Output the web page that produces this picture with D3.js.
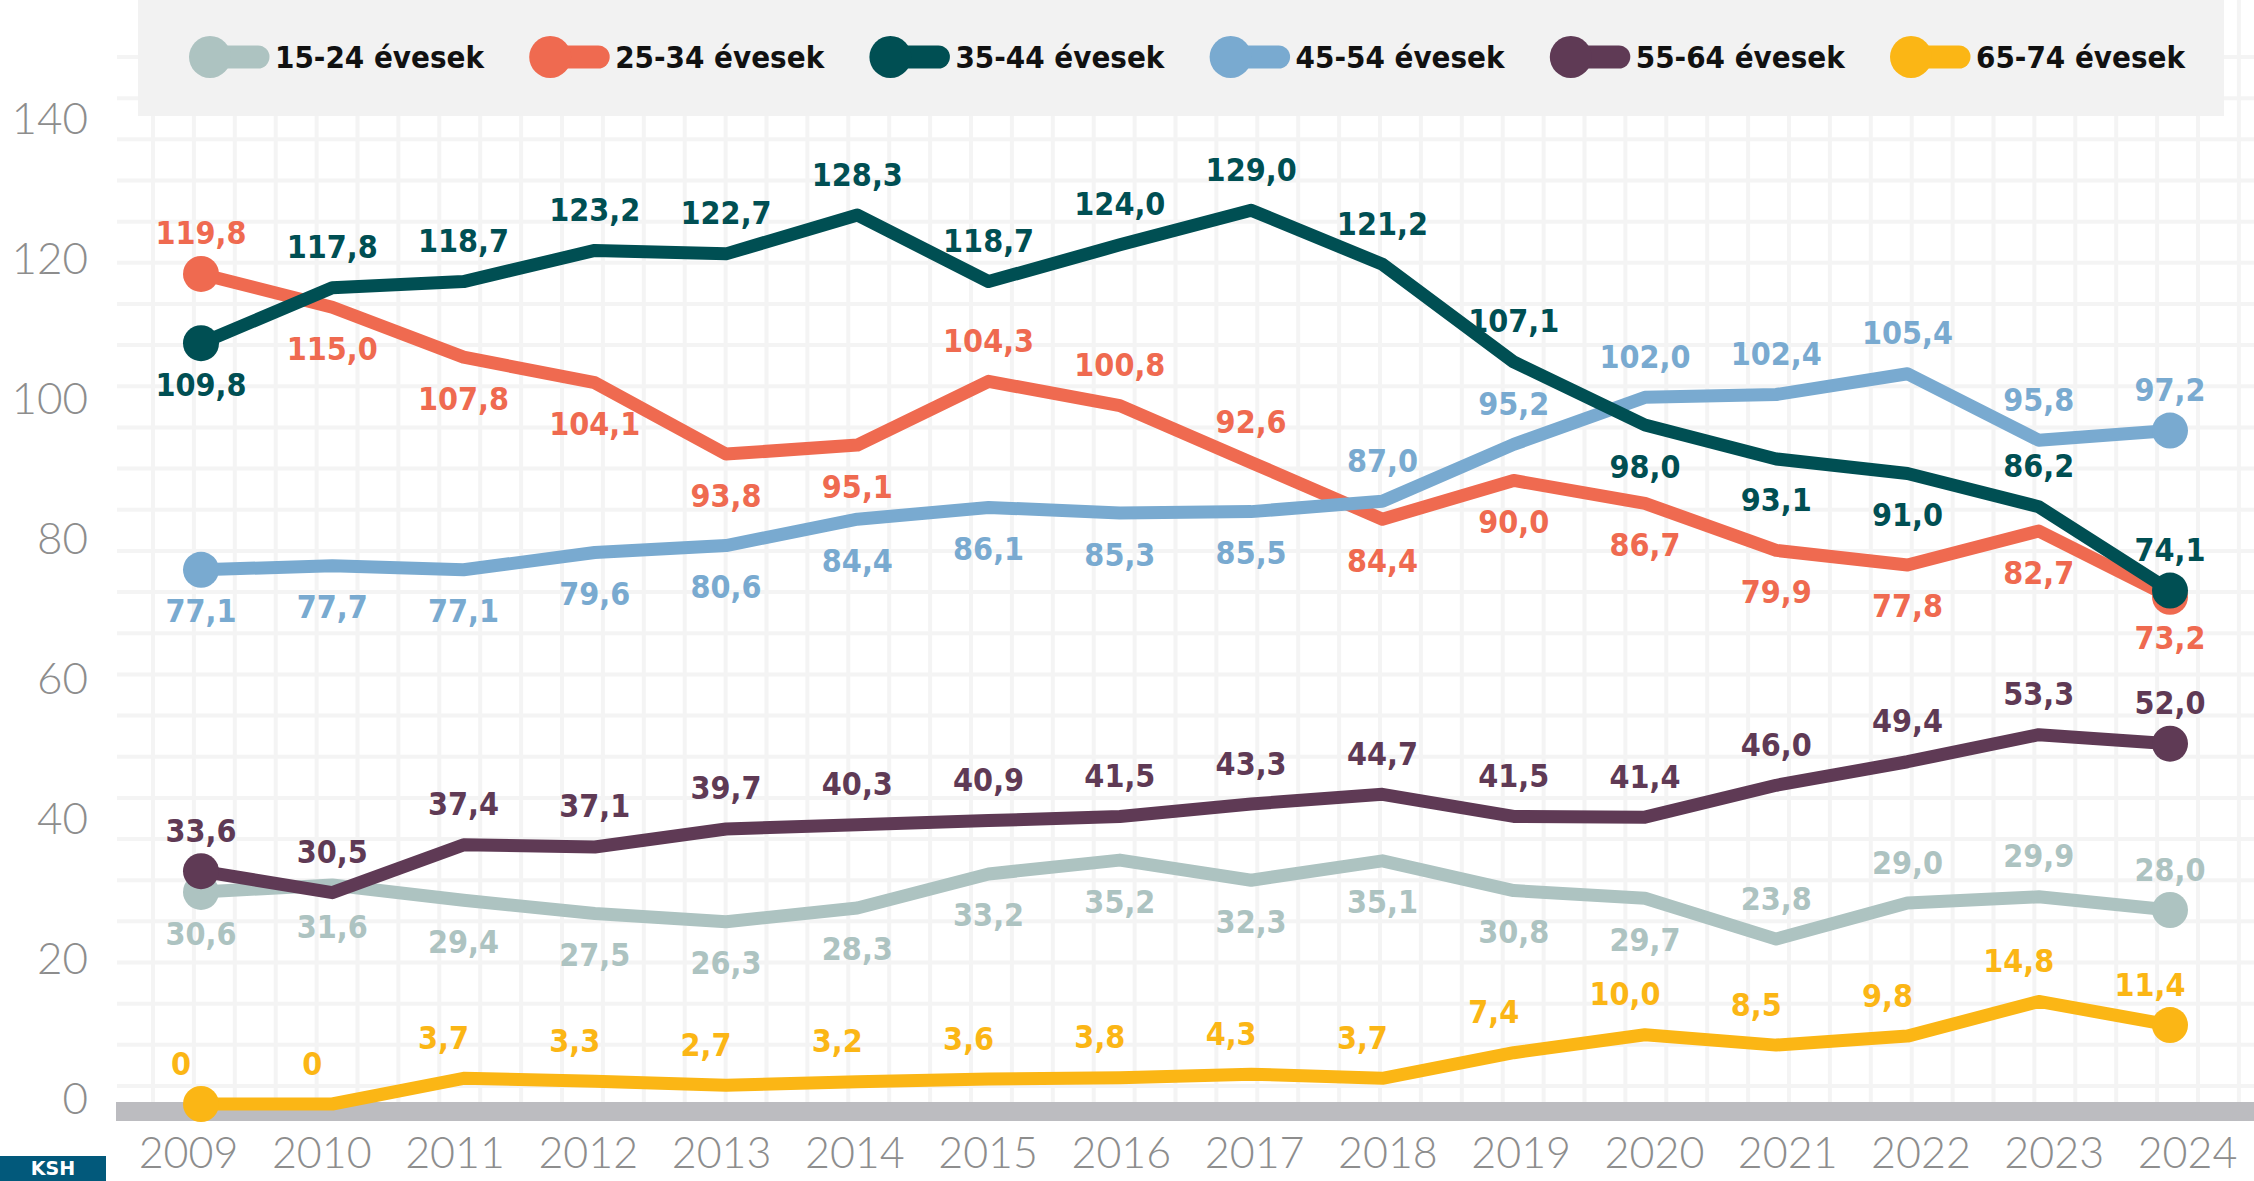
<!DOCTYPE html>
<html><head><meta charset="utf-8">
<script src="https://cdn.jsdelivr.net/npm/d3@7"></script>
<style>
html,body{margin:0;padding:0;background:#fff;overflow:hidden;}
svg{display:block;}
.lbl{font-family:"DejaVu Sans Condensed","DejaVu Sans",sans-serif;font-stretch:condensed;font-weight:bold;}
</style></head><body>
<svg id="c" width="2254" height="1181"></svg>
<script>
// ---- data ----
const years = [2009,2010,2011,2012,2013,2014,2015,2016,2017,2018,2019,2020,2021,2022,2023,2024];
const seriesNames = ["15-24 évesek","25-34 évesek","35-44 évesek","45-54 évesek","55-64 évesek","65-74 évesek"];
const age1524 = [30.6,31.6,29.4,27.5,26.3,28.3,33.2,35.2,32.3,35.1,30.8,29.7,23.8,29.0,29.9,28.0];
const age2534 = [119.8,115.0,107.8,104.1,93.8,95.1,104.3,100.8,92.6,84.4,90.0,86.7,79.9,77.8,82.7,73.2];
const age3544 = [109.8,117.8,118.7,123.2,122.7,128.3,118.7,124.0,129.0,121.2,107.1,98.0,93.1,91.0,86.2,74.1];
const age4554 = [77.1,77.7,77.1,79.6,80.6,84.4,86.1,85.3,85.5,87.0,95.2,102.0,102.4,105.4,95.8,97.2];
const age5564 = [33.6,30.5,37.4,37.1,39.7,40.3,40.9,41.5,43.3,44.7,41.5,41.4,46.0,49.4,53.3,52.0];
const age6574 = [0,0,3.7,3.3,2.7,3.2,3.6,3.8,4.3,3.7,7.4,10.0,8.5,9.8,14.8,11.4];
const yTicks = [0,20,40,60,80,100,120,140];
// label side per point: a = above the line, b = below
const side1524 = ["b","b","b","b","b","b","b","b","b","b","b","b","a","a","a","a"];
const side2534 = ["a","b","b","b","b","b","a","a","a","b","b","b","b","b","b","b"];
const side3544 = ["b","a","a","a","a","a","a","a","a","a","a","b","b","b","a","a"];
const side4554 = ["b","b","b","b","b","b","b","b","b","a","a","a","a","a","a","a"];
const side5564 = ["a","a","a","a","a","a","a","a","a","a","a","a","a","a","a","a"];
const side6574 = ["a","a","a","a","a","a","a","a","a","a","a","a","a","a","a","a"];

// ---- styles ----
const colors = ["#adc3c1","#ef6a50","#004f53","#79aad0","#5f3a55","#fbb615"];
const series = [
  {name:seriesNames[0], values:age1524, side:side1524, color:colors[0], dx:0},
  {name:seriesNames[1], values:age2534, side:side2534, color:colors[1], dx:0},
  {name:seriesNames[2], values:age3544, side:side3544, color:colors[2], dx:0},
  {name:seriesNames[3], values:age4554, side:side4554, color:colors[3], dx:0},
  {name:seriesNames[4], values:age5564, side:side5564, color:colors[4], dx:0},
  {name:seriesNames[5], values:age6574, side:side6574, color:colors[5], dx:-20}
];
const drawOrder = [0,5,1,4,3,2];

const W = 2254, H = 1181;
const svg = d3.select("#c");
const x = d3.scalePoint().domain(years).range([201, 2170]);
const xLab = d3.scalePoint().domain(years).range([188, 2187]);
const y = d3.scaleLinear().domain([0,140]).range([1104, 134]);
const yLab = d3.scaleLinear().domain([0,140]).range([1098, 118]);

// ---- decorative grid ----
const grid = svg.append("g");
const gridStroke = "#f4f4f4";
d3.range(153, W, 40.9).forEach(gx => {
  grid.append("line").attr("x1",gx).attr("x2",gx).attr("y1",0).attr("y2",1102)
    .attr("stroke",gridStroke).attr("stroke-width",4);
});
d3.range(57, 1090, 41.16).forEach(gy => {
  grid.append("line").attr("x1",117).attr("x2",W).attr("y1",gy).attr("y2",gy)
    .attr("stroke",gridStroke).attr("stroke-width",4);
});

// baseline band
svg.append("rect").attr("x",116).attr("y",y(0)-2).attr("width",W-116).attr("height",19).attr("fill","#bcbcc0");

// ---- y axis labels ----
const yAxis = d3.axisLeft(yLab).tickValues(yTicks).tickSize(0).tickFormat(d3.format("d"));
const yg = svg.append("g").attr("transform","translate(88,0)").call(yAxis);
yg.select(".domain").remove();
yg.selectAll("text").attr("font-size",44).attr("dy","0.36em").attr("x",0)
  .style("font-family","Lato, 'Open Sans', sans-serif").style("font-weight",300).attr("fill","#8d8d8d");

// ---- x axis labels ----
const xAxis = d3.axisBottom(xLab).tickSize(0).tickFormat(d3.format("d"));
const xg = svg.append("g").attr("transform","translate(0,1168)").call(xAxis);
xg.select(".domain").remove();
xg.selectAll("text").attr("font-size",43).attr("dy","0").attr("y",0)
  .style("font-family","Lato, 'Open Sans', sans-serif").style("font-weight",300).attr("fill","#8d8d8d");

// ---- legend ----
svg.append("rect").attr("x",138).attr("y",0).attr("width",2224-138).attr("height",116).attr("fill","#f2f2f2");
const legX = d3.scalePoint().domain(seriesNames).range([210, 1911]);
const leg = svg.append("g");
series.forEach(s => {
  const cx = legX(s.name);
  leg.append("line").attr("x1",cx).attr("x2",cx+48).attr("y1",57).attr("y2",57)
    .attr("stroke",s.color).attr("stroke-width",23).attr("stroke-linecap","round");
  leg.append("circle").attr("cx",cx).attr("cy",57).attr("r",21).attr("fill",s.color);
  leg.append("text").attr("class","lbl").attr("x",cx+65).attr("y",57).attr("dy","0.36em")
    .attr("font-size",31).attr("fill","#111").text(s.name);
});

// ---- lines ----
const line = d3.line().x((d,i)=>x(years[i])).y(d=>y(d)).curve(d3.curveLinear);
const lg = svg.append("g");
drawOrder.forEach(k => {
  const s = series[k];
  lg.append("path").datum(s.values).attr("d",line).attr("fill","none")
    .attr("stroke",s.color).attr("stroke-width",13)
    .attr("stroke-linejoin","round").attr("stroke-linecap","round");
  const ends = [0, s.values.length-1];
  ends.forEach(i => {
    lg.append("circle").attr("cx",x(years[i])).attr("cy",y(s.values[i])).attr("r",18).attr("fill",s.color);
  });
});

// ---- value labels ----
const fmt = v => d3.format(".1f")(v).replace(".",",");
const fmtLabel = v => v === 0 ? "0" : fmt(v);
const labG = svg.append("g");
drawOrder.forEach(k => {
  const s = series[k];
  s.values.forEach((v,i) => {
    const above = s.side[i] === "a";
    const cy = y(v) + (above ? -41 : 41);
    labG.append("text").attr("class","lbl")
      .attr("x",x(years[i]) + s.dx).attr("y",cy).attr("dy","0.36em")
      .attr("text-anchor","middle").attr("font-size",32).attr("fill",s.color)
      .text(fmtLabel(v));
  });
});

// ---- bottom-left logo fragment ----
svg.append("rect").attr("x",0).attr("y",1156).attr("width",106).attr("height",25).attr("fill","#02597b");
svg.append("text").attr("x",53).attr("y",1175).attr("text-anchor","middle").attr("font-size",19).attr("font-weight","bold")
  .style("font-family","'DejaVu Sans', sans-serif").attr("fill","#fff").text("KSH");
</script>
</body></html>
